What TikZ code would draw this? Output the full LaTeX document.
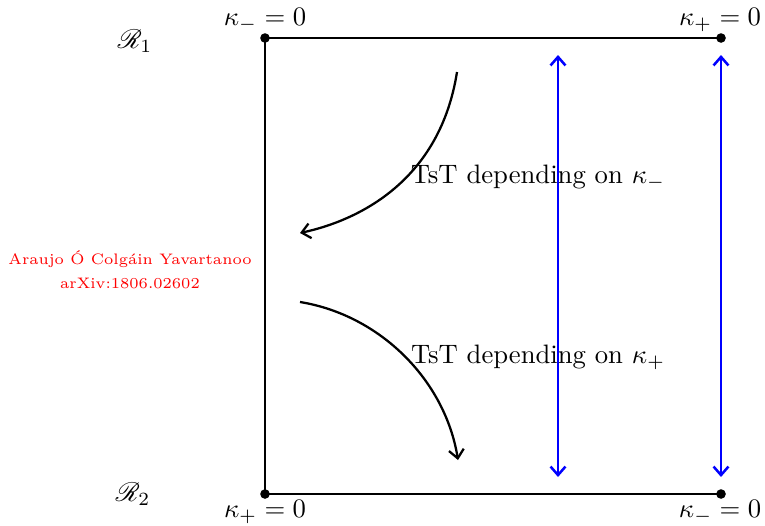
\documentclass[tikz,border=0pt]{standalone}
\usepackage{mathrsfs}
\usetikzlibrary{arrows.meta}
\begin{document}
\begin{tikzpicture}[x=0.375pt,y=-0.375pt,
  edge/.style={line width=0.85pt,black},
  dot/.style={circle,fill=black,inner sep=0pt,minimum size=3.6pt},
  lab/.style={inner sep=0pt},
  flow/.style={line width=0.85pt,-{Straight Barb[length=3.2pt,width=5.6pt]},black},
  blu/.style={line width=0.95pt,{Straight Barb[length=3.2pt,width=5.6pt]}-{Straight Barb[length=3.2pt,width=5.6pt]},blue}]
\useasboundingbox (0,0) rectangle (765,525);
\node[dot] (tl) at (265,38) {};
\node[dot] (tr) at (721,38) {};
\node[dot] (bl) at (265,494) {};
\node[dot] (br) at (721,494) {};
\draw[edge] (tl.center) -- (tr.center);
\draw[edge] (tl.center) -- (bl.center);
\draw[edge] (bl.center) -- (br.center);
\node[lab] (ltl) at (265,20) {$\kappa_-=0$};
\node[lab] (ltr) at (720,20) {$\kappa_+=0$};
\node[lab] (lbl) at (265,512) {$\kappa_+=0$};
\node[lab] (lbr) at (720,512) {$\kappa_-=0$};
\node[lab] (r1) at (135,41) {$\mathscr{R}_1$};
\node[lab] (r2) at (133,494) {$\mathscr{R}_2$};
\node[lab,red,align=center,font=\fontsize{5.7}{9}\selectfont] (ref) at (130,270) {Araujo Ó Colgáin Yavartanoo\\arXiv:1806.02602};
\node[lab] (t1) at (538,177) {TsT depending on $\kappa_-$};
\node[lab] (t2) at (538,357) {TsT depending on $\kappa_+$};
\coordinate (a1s) at (457,72);
\coordinate (a1e) at (300,233);
\coordinate (a2s) at (300,302);
\coordinate (a2e) at (458,460);
\draw[flow] (a1s) .. controls (440,180) and (360,220) .. (a1e);
\draw[flow] (a2s) .. controls (380,315) and (445,380) .. (a2e);
\coordinate (b1t) at (558,55);
\coordinate (b1b) at (558,477);
\coordinate (b2t) at (721,55);
\coordinate (b2b) at (721,477);
\draw[blu] (b1t) -- (b1b);
\draw[blu] (b2t) -- (b2b);
\end{tikzpicture}
\end{document}
